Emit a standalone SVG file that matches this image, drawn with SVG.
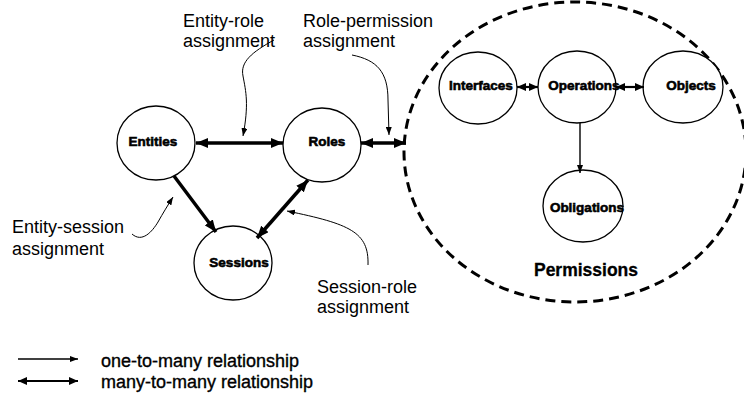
<svg xmlns="http://www.w3.org/2000/svg" width="744" height="403" viewBox="0 0 744 403">
  <style>
    .node { fill: #fff; stroke: #000; stroke-width: 1.3; }
    .nlabel { font-family: "Liberation Sans", Arial, sans-serif; font-weight: bold; font-size: 13.5px; text-anchor: middle; fill: #000; stroke: #000; stroke-width: 0.6; }
    .label { font-family: "Liberation Sans", Arial, sans-serif; font-size: 18px; fill: #000; }
    .legend { font-family: "Liberation Sans", Arial, sans-serif; font-size: 18px; fill: #000; stroke: #000; stroke-width: 0.35; }
    .thick { stroke: #000; stroke-width: 3.5; fill: none; }
    .thin { stroke: #000; stroke-width: 1.4; fill: none; }
    .mid { stroke: #000; stroke-width: 2.2; fill: none; }
    .callout { stroke: #000; stroke-width: 1; fill: none; }
  </style>
  <defs>
    <marker id="big" viewBox="0 0 12 10" refX="12" refY="5" markerWidth="12" markerHeight="10" markerUnits="userSpaceOnUse" orient="auto-start-reverse">
      <path d="M0,0 L12,5 L0,10 z" fill="#000"/>
    </marker>
    <marker id="small" viewBox="0 0 9 8" refX="9" refY="4" markerWidth="9" markerHeight="8" markerUnits="userSpaceOnUse" orient="auto-start-reverse">
      <path d="M0,0 L9,4 L0,8 z" fill="#000"/>
    </marker>
    <marker id="tiny" viewBox="0 0 8 6" refX="8" refY="3" markerWidth="8" markerHeight="6" markerUnits="userSpaceOnUse" orient="auto">
      <path d="M0,0 L8,3 L0,6 z" fill="#000"/>
    </marker>
  </defs>

  <!-- permissions container -->
  <g id="permissions">
    <ellipse cx="575" cy="152" rx="171" ry="150" fill="none" stroke="#000" stroke-width="3" stroke-dasharray="10 6"/>
    <text x="586" y="276" font-family="Liberation Sans, Arial, sans-serif" font-weight="bold" font-size="17.5" text-anchor="middle" stroke="#000" stroke-width="0.3">Permissions</text>
  </g>

  <!-- nodes -->
  <g id="entities">
    <ellipse class="node" cx="156" cy="143" rx="39" ry="37"/>
    <text class="nlabel" x="153" y="146">Entities</text>
  </g>
  <g id="roles">
    <ellipse class="node" cx="322" cy="145" rx="39" ry="37"/>
    <text class="nlabel" x="327" y="146">Roles</text>
  </g>
  <g id="sessions">
    <ellipse class="node" cx="233" cy="263" rx="39" ry="37"/>
    <text class="nlabel" x="239" y="267">Sessions</text>
  </g>
  <g id="interfaces">
    <ellipse class="node" cx="478" cy="88" rx="39" ry="36"/>
    <text class="nlabel" x="481" y="90">Interfaces</text>
  </g>
  <g id="operations">
    <ellipse class="node" cx="577" cy="87" rx="39" ry="36"/>
    <text class="nlabel" x="584" y="90">Operations</text>
  </g>
  <g id="objects">
    <ellipse class="node" cx="683" cy="87" rx="40" ry="36"/>
    <text class="nlabel" x="691" y="90">Objects</text>
  </g>
  <g id="obligations">
    <ellipse class="node" cx="583" cy="206" rx="40" ry="36"/>
    <text class="nlabel" x="587" y="212">Obligations</text>
  </g>

  <!-- connectors -->
  <g id="connectors">
    <line class="thick" x1="196" y1="143" x2="283" y2="143" marker-start="url(#big)" marker-end="url(#big)"/>
    <line class="thick" x1="361" y1="143" x2="406" y2="143" marker-start="url(#big)" marker-end="url(#big)"/>
    <line class="thick" x1="174" y1="176" x2="216" y2="232" marker-end="url(#big)"/>
    <line class="thick" x1="308" y1="180" x2="257" y2="238" marker-start="url(#big)" marker-end="url(#big)"/>
    <line class="mid" x1="517" y1="87" x2="538" y2="87" marker-start="url(#small)" marker-end="url(#small)"/>
    <line class="mid" x1="616" y1="87" x2="644" y2="87" marker-start="url(#small)" marker-end="url(#small)"/>
    <line class="thin" x1="580" y1="123" x2="580" y2="173" marker-end="url(#tiny)"/>
  </g>

  <!-- annotation callouts -->
  <g id="callouts">
    <path class="callout" d="M274,40 C252,52 240,62 243,76 C246,92 249,104 243,136" marker-end="url(#tiny)"/>
    <path class="callout" d="M352,55 C377,60 388,72 388,100 L389,135" marker-end="url(#tiny)"/>
    <path class="callout" d="M132,234 C142,243 152,232 158,222 C163,213 168,205 173,197" marker-end="url(#tiny)"/>
    <path class="callout" d="M368,265 C369,232 350,224 287,211" marker-end="url(#tiny)"/>
  </g>

  <!-- annotation labels -->
  <g id="labels">
    <text class="label" x="183" y="27">Entity-role</text>
    <text class="label" x="183" y="47">assignment</text>
    <text class="label" x="303" y="27">Role-permission</text>
    <text class="label" x="303" y="47">assignment</text>
    <text class="label" x="12" y="233">Entity-session</text>
    <text class="label" x="12" y="255">assignment</text>
    <text class="label" x="317" y="293">Session-role</text>
    <text class="label" x="317" y="313">assignment</text>
  </g>

  <!-- legend -->
  <g id="legend">
    <line class="thin" x1="18" y1="359" x2="78" y2="359" marker-end="url(#tiny)"/>
    <text class="legend" x="101" y="367">one-to-many relationship</text>
    <line class="mid" x1="18" y1="381" x2="78" y2="381" marker-start="url(#small)" marker-end="url(#small)"/>
    <text class="legend" x="101" y="388">many-to-many relationship</text>
  </g>
</svg>
